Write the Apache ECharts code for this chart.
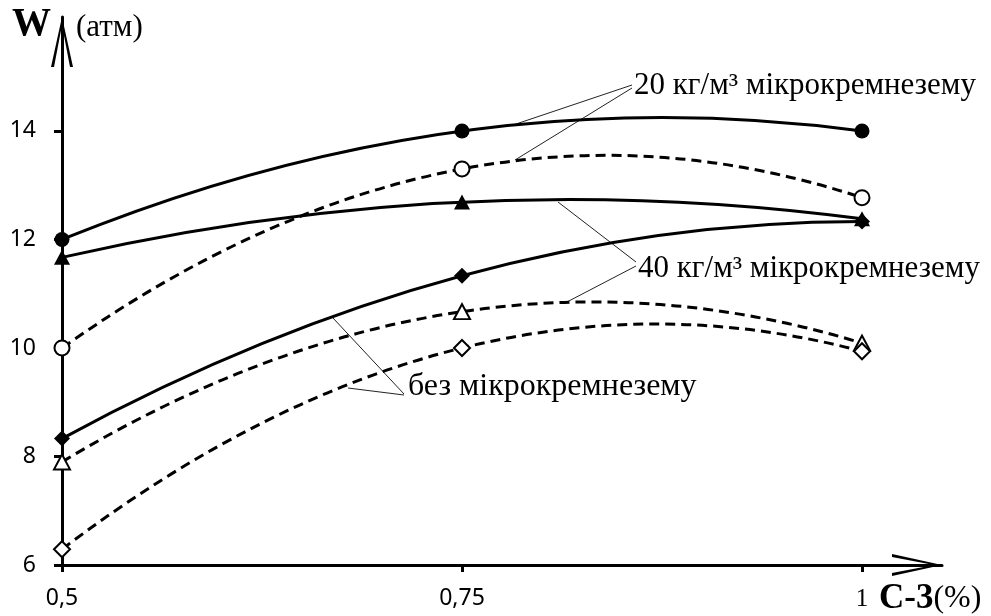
<!DOCTYPE html>
<html><head><meta charset="utf-8">
<script src="https://cdn.jsdelivr.net/npm/echarts@6/dist/echarts.min.js"></script>
<style>html,body{margin:0;padding:0;background:#fff}#c{width:991px;height:616px}</style>
</head><body><div id="c"></div>
<script>
// ---- data ----
const xValues = [0.5, 0.75, 1];
const xTickLabels = ['0,5', '0,75', '1'];
const yTickValues = [6, 8, 10, 12, 14];
const s20solid = [12.0, 14.0, 14.0];     // 20 кг/м³, filled circle
const s20dash  = [10.0, 13.3, 12.77];    // 20 кг/м³, open circle
const s40solid = [11.67, 12.69, 12.38];  // 40 кг/м³, filled triangle
const s40dash  = [7.9, 10.67, 10.09];    // 40 кг/м³, open triangle
const s0solid  = [8.33, 11.33, 12.33];   // без, filled diamond
const s0dash   = [6.29, 10.0, 9.94];     // без, open diamond

const seriesDefs = [
  { vals: s20solid, symbol: 'circle',   filled: true,  dashed: false },
  { vals: s20dash,  symbol: 'circle',   filled: false, dashed: true },
  { vals: s40solid, symbol: 'triangle', filled: true,  dashed: false },
  { vals: s40dash,  symbol: 'triangle', filled: false, dashed: true },
  { vals: s0solid,  symbol: 'diamond',  filled: true,  dashed: false },
  { vals: s0dash,   symbol: 'diamond',  filled: false, dashed: true }
];

function curveRender(vals, dashed) {
  return function (params, api) {
    if (params.dataIndex !== 0) return null;
    const p = xValues.map((x, i) => api.coord([x, vals[i]]));
    const cx = 2 * p[1][0] - 0.5 * (p[0][0] + p[2][0]);
    const cy = 2 * p[1][1] - 0.5 * (p[0][1] + p[2][1]);
    return {
      type: 'bezierCurve',
      shape: { x1: p[0][0], y1: p[0][1], x2: p[2][0], y2: p[2][1], cpx1: cx, cpy1: cy },
      style: { stroke: '#000', fill: null, lineWidth: 3, lineDash: dashed ? [10, 6] : null }
    };
  };
}

const series = [];
seriesDefs.forEach(d => {
  const data = xValues.map((x, i) => [x, d.vals[i]]);
  series.push({
    type: 'custom', renderItem: curveRender(d.vals, d.dashed),
    encode: { x: 0, y: 1 }, data: data, z: 2, silent: true
  });
});
seriesDefs.forEach(d => {
  const data = xValues.map((x, i) => [x, d.vals[i]]);
  series.push({
    type: 'scatter', data: data, symbol: d.symbol,
    symbolSize: d.symbol === 'circle' ? 15 : (d.symbol === 'triangle' ? [16, 15] : [16, 16]),
    itemStyle: { color: d.filled ? '#000' : '#fff', borderColor: '#000', borderWidth: d.filled ? 0 : 2, opacity: 1 },
    z: 5, silent: true
  });
});

const arrowPath = 'path://M11 0 L22 50 L19 50 L11 8 L3 50 L0 50 Z';
const serif = '"Liberation Serif", "DejaVu Serif", serif';
const sans = '"Noto Sans", "Open Sans", sans-serif';

const chart = echarts.init(document.getElementById('c'), null, { renderer: 'canvas' });
chart.setOption({
  animation: false,
  backgroundColor: '#fff',
  grid: { left: 62, right: 49, top: 17, bottom: 51, containLabel: false },
  xAxis: {
    type: 'value', min: 0.5, max: 1.05, interval: 0.25,
    splitLine: { show: false },
    axisLine: { show: true, lineStyle: { color: '#000', width: 3 },
      symbol: ['none', arrowPath], symbolSize: [22, 50], symbolOffset: [0, -25] },
    axisTick: { show: true, length: 7, lineStyle: { color: '#000', width: 3 }, customValues: xValues },
    axisLabel: {
      customValues: xValues, margin: 22, color: '#000', fontFamily: sans, fontSize: 23,
      rich: { s: { fontFamily: serif, fontSize: 25, color: '#000' } },
      formatter: v => {
        const i = xValues.findIndex(x => Math.abs(x - v) < 1e-9);
        if (i < 0) return '';
        return i === xValues.length - 1 ? '{s|' + xTickLabels[i] + '}' : xTickLabels[i];
      }
    }
  },
  yAxis: {
    type: 'value', min: 6, max: 16.1, interval: 2,
    splitLine: { show: false },
    axisLine: { show: true, lineStyle: { color: '#000', width: 3 },
      symbol: ['none', arrowPath], symbolSize: [22, 50], symbolOffset: [0, -25] },
    axisTick: { show: true, length: 8, lineStyle: { color: '#000', width: 3 }, customValues: yTickValues },
    axisLabel: {
      customValues: yTickValues, margin: 26, color: '#000', fontFamily: sans, fontSize: 23,
      formatter: v => yTickValues.indexOf(v) >= 0 ? String(v) : ''
    }
  },
  graphic: [
    { type: 'text', left: 12, top: 5, style: { text: 'W', font: 'bold 39px ' + serif, fill: '#000' } },
    { type: 'text', left: 76, top: 12, style: { text: '(атм)', font: '31px ' + serif, fill: '#000' } },
    { type: 'text', left: 879, top: 581, style: { text: '{b|С-3}{n|(%)}', rich: {
        b: { font: 'bold 35px ' + serif, fill: '#000' }, n: { font: '32px ' + serif, fill: '#000' } } } },
    { type: 'text', left: 634, top: 70, style: { text: '20 кг/м³ мікрокремнезему', font: '31px ' + serif, fill: '#000' } },
    { type: 'text', left: 638, top: 253, style: { text: '40 кг/м³ мікрокремнезему', font: '31px ' + serif, fill: '#000' } },
    { type: 'text', left: 408, top: 371, style: { text: 'без мікрокремнезему', font: '32px ' + serif, fill: '#000' } },
    { type: 'line', shape: { x1: 632, y1: 85, x2: 516, y2: 124 }, style: { stroke: '#222', lineWidth: 1 } },
    { type: 'line', shape: { x1: 632, y1: 88, x2: 515, y2: 160 }, style: { stroke: '#222', lineWidth: 1 } },
    { type: 'line', shape: { x1: 636, y1: 262, x2: 558, y2: 202 }, style: { stroke: '#222', lineWidth: 1 } },
    { type: 'line', shape: { x1: 636, y1: 266, x2: 565, y2: 303 }, style: { stroke: '#222', lineWidth: 1 } },
    { type: 'line', shape: { x1: 404, y1: 394, x2: 333, y2: 318 }, style: { stroke: '#222', lineWidth: 1 } },
    { type: 'line', shape: { x1: 404, y1: 395, x2: 348, y2: 388 }, style: { stroke: '#222', lineWidth: 1 } }
  ],
  series: series
});
</script>
</body></html>
